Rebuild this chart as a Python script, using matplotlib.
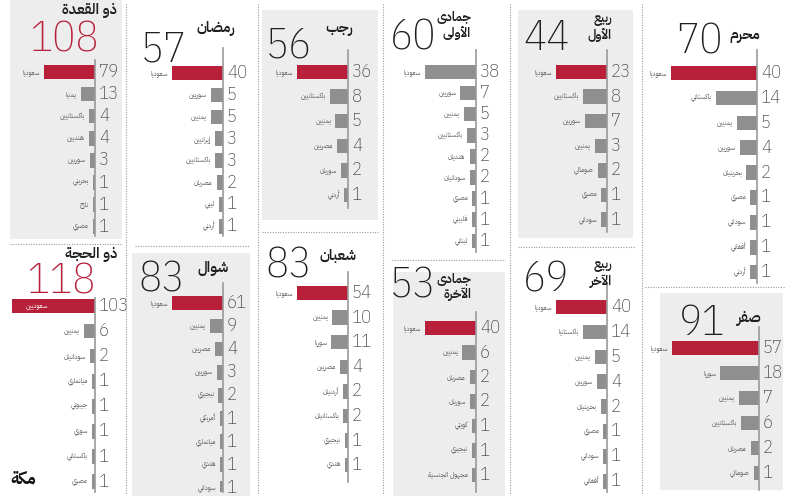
import numpy as np
import matplotlib
matplotlib.use("Agg")
import matplotlib.pyplot as plt
from matplotlib.lines import Line2D
from matplotlib.patches import Rectangle

# ---------------- data ----------------
months = ['محرم', 'صفر', 'ربيع الأول', 'ربيع الآخر', 'جمادى الأولى', 'جمادى الآخرة',
          'رجب', 'شعبان', 'رمضان', 'شوال', 'ذو القعدة', 'ذو الحجة']
totals = [70, 91, 44, 69, 60, 53, 56, 83, 57, 83, 108, 118]

muharram_labels = ['سعوديا', 'باكستاني', 'يمنيين', 'سوريين', 'بحرينيان', 'مصري', 'سوداني', 'أفغاني', 'أردني']
muharram_values = [40, 14, 5, 4, 2, 1, 1, 1, 1]
safar_labels = ['سعوديا', 'سوريا', 'يمنيين', 'باكستانيين', 'مصريان', 'صومالي']
safar_values = [57, 18, 7, 6, 2, 1]
rabi1_labels = ['سعوديا', 'باكستانيين', 'سوريين', 'يمنيين', 'صومالي', 'مصري', 'سوداني']
rabi1_values = [23, 8, 7, 3, 2, 1, 1]
rabi2_labels = ['سعوديا', 'باكستانيا', 'يمنيين', 'سوريين', 'بحرينيان', 'مصري', 'سوداني', 'أفغاني']
rabi2_values = [40, 14, 5, 4, 2, 1, 1, 1]
jumada1_labels = ['سعوديا', 'سوريين', 'يمنيين', 'باكستانيين', 'هنديان', 'سودانيان', 'مصري', 'فلبيني', 'لبناني']
jumada1_values = [38, 7, 5, 3, 2, 2, 1, 1, 1]
jumada2_labels = ['سعوديا', 'يمنيين', 'مصريان', 'سوريان', 'كويتي', 'نيجيري', 'مجهول الجنسية']
jumada2_values = [40, 6, 2, 2, 1, 1, 1]
rajab_labels = ['سعوديا', 'باكستانيين', 'يمنيين', 'مصريين', 'سوريان', 'أردني']
rajab_values = [36, 8, 5, 4, 2, 1]
shaban_labels = ['سعوديا', 'يمنيين', 'سوريا', 'مصريين', 'أردنيان', 'باكستانيان', 'نيجيري', 'هندي']
shaban_values = [54, 10, 11, 4, 2, 2, 1, 1]
ramadan_labels = ['سعوديا', 'سوريين', 'يمنيين', 'إيرانيين', 'باكستانيين', 'مصريان', 'ليبي', 'أردني']
ramadan_values = [40, 5, 5, 3, 3, 2, 1, 1]
shawwal_labels = ['سعوديا', 'يمنيين', 'مصريين', 'سوريين', 'نيجيري', 'أمريكي', 'ميانماري', 'هندي', 'سوداني']
shawwal_values = [61, 9, 4, 3, 2, 1, 1, 1, 1]
qadah_labels = ['سعوديا', 'يمنيا', 'باكستانيين', 'هنديين', 'سوريين', 'بحريني', 'نازح', 'مصري']
qadah_values = [79, 13, 4, 4, 3, 1, 1, 1]
hijjah_labels = ['سعوديين', 'يمنيين', 'سودانيان', 'ميانماري', 'جيبوتي', 'سوري', 'باكستاني', 'مصري']
hijjah_values = [103, 6, 2, 1, 1, 1, 1, 1]

series_labels = [muharram_labels, safar_labels, rabi1_labels, rabi2_labels, jumada1_labels, jumada2_labels,
                 rajab_labels, shaban_labels, ramadan_labels, shawwal_labels, qadah_labels, hijjah_labels]
series_values = [muharram_values, safar_values, rabi1_values, rabi2_values, jumada1_values, jumada2_values,
                 rajab_values, shaban_values, ramadan_values, shawwal_values, qadah_values, hijjah_values]

# ---------------- Arabic shaping (matplotlib has no text shaping) ----------------
_BASE = [('\u0622', 0xFE81, 2), ('\u0623', 0xFE83, 2), ('\u0625', 0xFE87, 2), ('\u0627', 0xFE8D, 2),
         ('\u0628', 0xFE8F, 4), ('\u0629', 0xFE93, 2), ('\u062A', 0xFE95, 4), ('\u062B', 0xFE99, 4),
         ('\u062C', 0xFE9D, 4), ('\u062D', 0xFEA1, 4), ('\u062E', 0xFEA5, 4), ('\u062F', 0xFEA9, 2),
         ('\u0630', 0xFEAB, 2), ('\u0631', 0xFEAD, 2), ('\u0632', 0xFEAF, 2), ('\u0633', 0xFEB1, 4),
         ('\u0634', 0xFEB5, 4), ('\u0635', 0xFEB9, 4), ('\u0636', 0xFEBD, 4), ('\u0637', 0xFEC1, 4),
         ('\u0638', 0xFEC5, 4), ('\u0639', 0xFEC9, 4), ('\u063A', 0xFECD, 4), ('\u0641', 0xFED1, 4),
         ('\u0642', 0xFED5, 4), ('\u0643', 0xFED9, 4), ('\u0644', 0xFEDD, 4), ('\u0645', 0xFEE1, 4),
         ('\u0646', 0xFEE5, 4), ('\u0647', 0xFEE9, 4), ('\u0648', 0xFEED, 2), ('\u0649', 0xFEEF, 2),
         ('\u064A', 0xFEF1, 4)]
_FORMS = {c: (s, n) for c, s, n in _BASE}
_LAMALEF = {'\u0622': 0xFEF5, '\u0623': 0xFEF7, '\u0625': 0xFEF9, '\u0627': 0xFEFB}


def shape(text):
    units = []
    i = 0
    while i < len(text):
        c = text[i]
        if c == '\u0644' and i + 1 < len(text) and text[i + 1] in _LAMALEF:
            units.append(('LA', _LAMALEF[text[i + 1]], 2))
            i += 2
        elif c in _FORMS:
            units.append((c, _FORMS[c][0], _FORMS[c][1]))
            i += 1
        else:
            units.append((c, None, 0))
            i += 1
    out = []
    for j, (c, start, n) in enumerate(units):
        if start is None:
            out.append(c)
            continue
        prev = units[j - 1] if j > 0 else None
        nxt = units[j + 1] if j + 1 < len(units) else None
        jp = prev is not None and prev[2] == 4
        jn = n == 4 and nxt is not None and nxt[1] is not None
        if jp and jn:
            k = 3
        elif jp:
            k = 1
        elif jn:
            k = 2
        else:
            k = 0
        out.append(chr(start + k))
    return ''.join(reversed(out))


# ---------------- layout (pixels, from top-left) ----------------
W, H = 800, 496
# axis_x, first bar y, spacing, axis top, axis bottom, max bar width, number cx, number baseline, title right, title y
layout = {
    'محرم':          (757, 73, 24.9, 50, 283, 86, 699, 53, 760, 36),
    'صفر':           (759, 348, 25.0, 327, 490, 87, 702, 335, 762, 319),
    'ربيع الأول':    (607, 72, 24.6, 50, 232, 51, 547, 50, 612, 20),
    'ربيع الآخر':    (607, 307, 24.9, 285, 492, 51, 546, 292, 612, 266),
    'جمادى الأولى':  (476, 72, 21.1, 50, 252, 51, 413, 50, 471, 18),
    'جمادى الآخرة':  (476, 328, 24.5, 312, 492, 51, 413, 298, 471, 279),
    'رجب':           (348, 72, 24.6, 50, 208, 51, 289, 58, 353, 29),
    'شعبان':         (348, 293, 24.6, 272, 482, 51, 289, 278, 356, 256),
    'رمضان':         (223, 73, 21.9, 48, 236, 51, 164, 62, 235, 29),
    'شوال':          (223, 303, 23.1, 283, 492, 51, 162, 291, 229, 269),
    'ذو القعدة':     (95, 72, 22.1, 60, 236, 51, 64, 52, 117, 10),
    'ذو الحجة':      (95, 306, 25.1, 298, 492, 83, 61, 294, 117, 255),
}
backgrounds = [(10, 0, 122, 239), (262, 10, 378, 220), (518, 10, 633, 238),
               (132, 253, 250, 496), (393, 272, 505, 496), (660, 293, 783, 490)]
vseps = [126, 258, 383, 510, 642]
hseps = [(10, 122, 244), (135, 250, 246), (262, 378, 232), (392, 505, 260), (518, 635, 247), (645, 785, 287)]

RED = '#b8203a'
GREY = '#8f8f8f'
BG = '#ededed'
AR = ['IBM Plex Sans Arabic', 'DejaVu Sans']
NUM = ['IBM Plex Sans Condensed', 'Lato', 'DejaVu Sans']
red_totals = {'ذو القعدة', 'ذو الحجة'}
grey_first = {'جمادى الأولى'}
inside_first = {'ذو الحجة'}

fig = plt.figure(figsize=(W / 100, H / 100), dpi=100)
fig.patch.set_facecolor('white')


def fx(x):
    return x / W


def fy(y):
    return 1 - y / H


for x0, y0, x1, y1 in backgrounds:
    fig.add_artist(Rectangle((fx(x0), fy(y1)), fx(x1 - x0), (y1 - y0) / H,
                             transform=fig.transFigure, facecolor=BG, edgecolor='none', zorder=0))
for x in vseps:
    fig.add_artist(Line2D([fx(x), fx(x)], [fy(4), fy(494)], transform=fig.transFigure,
                          color='#9a9a9a', lw=0.8, ls=(0, (1, 1.3)), zorder=1))
for x0, x1, y in hseps:
    fig.add_artist(Line2D([fx(x0), fx(x1)], [fy(y), fy(y)], transform=fig.transFigure,
                          color='#9a9a9a', lw=0.8, ls=(0, (1, 1.3)), zorder=1))

power = 0.7
fwd = lambda v: np.sign(v) * np.abs(v) ** power
inv = lambda v: np.sign(v) * np.abs(v) ** (1 / power)

for month, total, labels, values in zip(months, totals, series_labels, series_values):
    ax_x, y0, dy, top, bot, maxw, ncx, nbase, trx, ty = layout[month]
    ax = fig.add_axes([fx(ax_x - maxw), fy(bot), maxw / W, (bot - top) / H])
    ax.set_facecolor('none')
    ax.set_xscale('function', functions=(fwd, inv))
    ax.set_xlim(max(values), 0)
    ax.set_ylim((bot - y0) / dy, (top - y0) / dy)
    for s in ['left', 'top', 'bottom']:
        ax.spines[s].set_visible(False)
    ax.spines['right'].set_color('#9a9a9a')
    ax.spines['right'].set_linewidth(1.2)
    ax.set_xticks([])
    ax.set_yticks([])
    ypos = np.arange(len(values))
    colors = [GREY] * len(values)
    if month not in grey_first:
        colors[0] = RED
    ax.barh(ypos, values, height=14.5 / dy, color=colors, zorder=2)
    for i, (lab, v) in enumerate(zip(labels, values)):
        ax.annotate(str(v), xy=(0, i), xytext=(4, 0), textcoords='offset pixels',
                    ha='left', va='center', fontsize=13.5, family=NUM, weight=200,
                    color='#3c3c3c', annotation_clip=False)
        if i == 0 and month in inside_first:
            ax.annotate(shape(lab), xy=(v, i), xytext=(14, 0), textcoords='offset pixels',
                        ha='left', va='center', fontsize=4.8, family=AR, color='white',
                        annotation_clip=False, zorder=3)
        else:
            ax.annotate(shape(lab), xy=(v, i), xytext=(-4, 0), textcoords='offset pixels',
                        ha='right', va='center', fontsize=4.8, family=AR, color='#5a5a5a',
                        annotation_clip=False)
    # big total
    fig.text(fx(ncx), fy(nbase), str(total), ha='center', va='baseline', fontsize=31,
             family=NUM, weight=200, color=RED if month in red_totals else '#1e1e1e')
    # month title
    words = month.split(' ')
    if len(words) == 2 and month not in red_totals:
        fig.text(fx(trx), fy(ty), shape(words[0]), ha='right', va='center', fontsize=9,
                 family=AR, weight='semibold', color='#1e1e1e')
        fig.text(fx(trx), fy(ty + 15), shape(words[1]), ha='right', va='center', fontsize=9,
                 family=AR, weight='semibold', color='#1e1e1e')
    else:
        fig.text(fx(trx), fy(ty), shape(month), ha='right', va='center', fontsize=10.5,
                 family=AR, weight='semibold', color='#1e1e1e')

fig.text(fx(10), fy(479), shape('مكة'), ha='left', va='center', fontsize=12,
         family=AR, weight='bold', color='#111111')

fig.savefig('out.png', dpi=100, facecolor='white')
